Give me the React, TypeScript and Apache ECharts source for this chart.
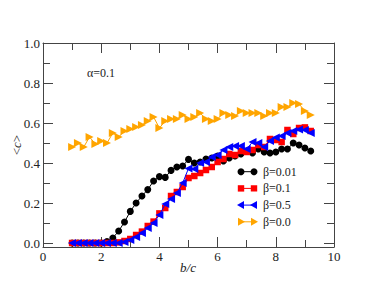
import React, { useEffect, useRef } from "react";
import * as echarts from "echarts";

const xValues = [1.0, 1.2, 1.4, 1.6, 1.8, 2.0, 2.2, 2.4, 2.6, 2.8, 3.0, 3.2, 3.4, 3.6, 3.8, 4.0, 4.2, 4.4, 4.6, 4.8, 5.0, 5.2, 5.4, 5.6, 5.8, 6.0, 6.2, 6.4, 6.6, 6.8, 7.0, 7.2, 7.4, 7.6, 7.8, 8.0, 8.2, 8.4, 8.6, 8.8, 9.0, 9.2];

const beta001 = [0, 0, 0, 0, 0, 0, 0.007, 0.025, 0.06, 0.105, 0.158, 0.2, 0.235, 0.267, 0.31, 0.332, 0.328, 0.363, 0.38, 0.385, 0.418, 0.4, 0.405, 0.42, 0.425, 0.435, 0.41, 0.425, 0.435, 0.445, 0.46, 0.45, 0.47, 0.455, 0.45, 0.455, 0.47, 0.47, 0.5, 0.49, 0.475, 0.46];
const beta01 = [0, 0, 0, 0, 0, 0, 0, 0, 0.003, 0.01, 0.02, 0.04, 0.057, 0.085, 0.107, 0.148, 0.175, 0.235, 0.255, 0.28, 0.325, 0.335, 0.35, 0.365, 0.38, 0.405, 0.42, 0.445, 0.44, 0.46, 0.455, 0.465, 0.49, 0.48, 0.52, 0.515, 0.505, 0.565, 0.545, 0.575, 0.578, 0.56];
const beta05 = [0, 0, 0, 0, 0, 0, 0, 0, 0, 0.005, 0.015, 0.03, 0.05, 0.075, 0.1, 0.14, 0.195, 0.22, 0.25, 0.3, 0.373, 0.37, 0.4, 0.405, 0.43, 0.44, 0.465, 0.48, 0.485, 0.485, 0.47, 0.505, 0.5, 0.48, 0.51, 0.527, 0.535, 0.55, 0.56, 0.568, 0.565, 0.55];
const beta00 = [0.48, 0.5, 0.48, 0.53, 0.495, 0.51, 0.5, 0.55, 0.53, 0.56, 0.57, 0.58, 0.59, 0.61, 0.63, 0.575, 0.61, 0.62, 0.62, 0.64, 0.62, 0.63, 0.65, 0.62, 0.61, 0.62, 0.65, 0.64, 0.635, 0.66, 0.65, 0.65, 0.65, 0.635, 0.65, 0.65, 0.68, 0.68, 0.7, 0.695, 0.66, 0.64];

const seriesNames = ["β=0.01", "β=0.1", "β=0.5", "β=0.0"];
const seriesColors = ["#000000", "#ff0000", "#0000ff", "#ffa500"];
const yMajorTicks = [0, 0.2, 0.4, 0.6, 0.8, 1.0];
const yMinorTicks = [0.1, 0.3, 0.5, 0.7, 0.9];

const FONT = "Liberation Serif";
const AXIS = "#444";

export default function App() {
  const ref = useRef<HTMLDivElement>(null);
  useEffect(() => {
    if (!ref.current) return;
    const chart = echarts.init(ref.current, null, { renderer: "svg" });
    const pair = (arr: number[]) => xValues.map((x, i) => [x, arr[i]]);
    const datasets = [beta001, beta01, beta05, beta00];
    const symbols = ["circle", "rect", "triangle", "triangle"];
    const rotates = [0, 0, 90, -90];
    const sizes = [7, 6.5, 8, 8];

    const xAxisBase = (pos: "bottom" | "top", labels: boolean) => ({
      type: "value",
      position: pos,
      min: 0,
      max: 10,
      interval: 2,
      axisLine: { show: true, onZero: false, lineStyle: { color: AXIS, width: 1 } },
      axisTick: { show: true, inside: true, length: 10, lineStyle: { color: AXIS } },
      minorTick: { show: true, splitNumber: 2, length: 7, lineStyle: { color: AXIS } },
      axisLabel: { show: labels, fontFamily: FONT, fontSize: 13, color: "#222", margin: 3 },
      splitLine: { show: false },
      minorSplitLine: { show: false },
    });
    const yAxisBase = (pos: "left" | "right", ticks: number[], len: number, labels: boolean, line: boolean) => ({
      type: "value",
      position: pos,
      min: -0.02,
      max: 1.0,
      axisLine: { show: line, onZero: false, lineStyle: { color: AXIS, width: 1 } },
      axisTick: { show: true, inside: true, length: len, customValues: ticks, lineStyle: { color: AXIS } },
      axisLabel: {
        show: labels,
        customValues: ticks,
        formatter: (v: number) => v.toFixed(1),
        fontFamily: FONT,
        fontSize: 13,
        color: "#222",
        margin: 3,
      },
      splitLine: { show: false },
    });

    const legendGraphics: any[] = [];
    seriesNames.forEach((name, i) => {
      const y = 171.7 + 16.7 * i;
      const c = seriesColors[i];
      legendGraphics.push({ type: "line", shape: { x1: 241, y1: y, x2: 254, y2: y }, style: { stroke: c, lineWidth: 1 } });
      [241, 254].forEach((cx) => {
        if (i === 0) legendGraphics.push({ type: "circle", shape: { cx, cy: y, r: 3.5 }, style: { fill: c } });
        else if (i === 1) legendGraphics.push({ type: "rect", shape: { x: cx - 3.2, y: y - 3.2, width: 6.4, height: 6.4 }, style: { fill: c } });
        else if (i === 2) legendGraphics.push({ type: "polygon", shape: { points: [[cx - 4, y], [cx + 3, y - 4], [cx + 3, y + 4]] }, style: { fill: c } });
        else legendGraphics.push({ type: "polygon", shape: { points: [[cx + 4, y], [cx - 3, y - 4], [cx - 3, y + 4]] }, style: { fill: c } });
      });
      legendGraphics.push({
        type: "text",
        x: 263,
        y,
        style: { text: name, fontFamily: FONT, fontSize: 12, fill: "#222", textVerticalAlign: "middle", textAlign: "left" },
      });
    });

    chart.setOption({
      animation: false,
      backgroundColor: "#fff",
      grid: { left: 43, right: 42, top: 43, bottom: 44 },
      xAxis: [xAxisBase("bottom", true), xAxisBase("top", false)],
      yAxis: [
        yAxisBase("left", yMajorTicks, 10, true, true),
        yAxisBase("left", yMinorTicks, 7, false, false),
        yAxisBase("right", yMajorTicks, 10, false, true),
        yAxisBase("right", yMinorTicks, 7, false, false),
      ],
      series: datasets.map((d, i) => ({
        name: seriesNames[i],
        type: "line",
        xAxisIndex: 0,
        yAxisIndex: 0,
        data: pair(d),
        symbol: symbols[i],
        symbolSize: sizes[i],
        symbolRotate: rotates[i],
        showAllSymbol: true,
        itemStyle: { color: seriesColors[i] },
        lineStyle: { color: seriesColors[i], width: 1 },
        z: 2 + i,
      })),
      graphic: [
        {
          type: "text",
          x: 87,
          y: 72.7,
          style: { text: "α=0.1", fontFamily: FONT, fontSize: 12, fill: "#222", textVerticalAlign: "middle" },
        },
        {
          type: "text",
          x: 188,
          y: 267,
          style: { text: "b/c", fontFamily: FONT, fontSize: 13, fontStyle: "italic", fill: "#222", textAlign: "center", textVerticalAlign: "middle" },
        },
        {
          type: "text",
          x: 16,
          y: 145,
          rotation: Math.PI / 2,
          style: {
            text: "{n|<}{i|c}{n|>}",
            fontFamily: FONT,
            fontSize: 13,
            fill: "#222",
            textAlign: "center",
            textVerticalAlign: "middle",
            rich: {
              n: { fontFamily: FONT, fontSize: 13, fill: "#222" },
              i: { fontFamily: FONT, fontSize: 13, fontStyle: "italic", fill: "#222" },
            },
          },
        },
        ...legendGraphics,
      ],
    });
    return () => chart.dispose();
  }, []);
  return <div ref={ref} style={{ position: "fixed", left: 0, top: 0, width: 376, height: 291, background: "#fff" }} />;
}
